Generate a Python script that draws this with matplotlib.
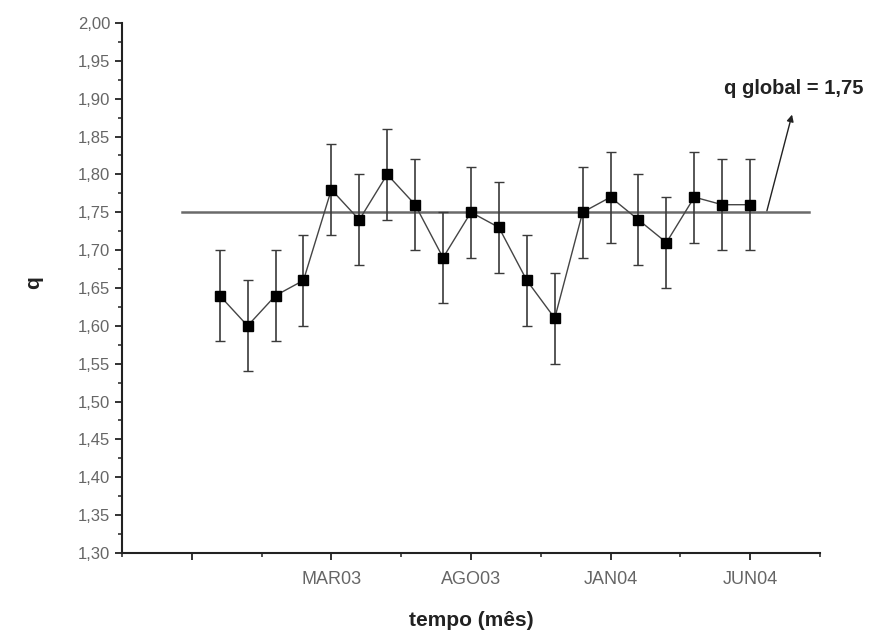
import matplotlib
matplotlib.use("Agg")
import matplotlib.pyplot as plt
from matplotlib.ticker import MultipleLocator, FixedLocator, FuncFormatter

plt.rcParams['font.family'] = ['Liberation Sans', 'DejaVu Sans']

# data
month_idx = list(range(1, 21))
q_values = [1.64, 1.60, 1.64, 1.66, 1.78, 1.74, 1.80, 1.76, 1.69, 1.75,
            1.73, 1.66, 1.61, 1.75, 1.77, 1.74, 1.71, 1.77, 1.76, 1.76]
q_err = [0.06] * 20
q_global = 1.75
xtick_pos = [0, 5, 10, 15, 20]
xtick_labels = ['', 'MAR03', 'AGO03', 'JAN04', 'JUN04']

fig = plt.figure(figsize=(8.75, 6.37), dpi=100)
ax = fig.add_axes([0.1394, 0.1319, 0.7977, 0.8320])

# global q line
ax.plot([-0.35, 22.1], [q_global, q_global], color='#6a6a6a', lw=1.8, zorder=1)

ax.errorbar(month_idx, q_values, yerr=q_err, fmt='s-', color='#444444',
            ecolor='#3a3a3a', elinewidth=1.2, capsize=3.5, capthick=1.0,
            lw=1.0, markersize=6.5, markerfacecolor='black',
            markeredgecolor='black', zorder=3)

ax.annotate('', xy=(21.5, 1.879), xytext=(20.6, 1.752),
            arrowprops=dict(arrowstyle='-|>', color='#222222', lw=1.0,
                            mutation_scale=10, shrinkA=0, shrinkB=0),
            annotation_clip=False)
ax.text(21.55, 1.914, 'q global = 1,75', ha='center', va='center',
        fontsize=14.5, fontweight='bold', color='#222222', clip_on=False)

ax.set_xlim(-2.5, 22.5)
ax.set_ylim(1.30, 2.00)
ax.xaxis.set_major_locator(FixedLocator(xtick_pos))
ax.set_xticklabels(xtick_labels)
ax.xaxis.set_minor_locator(FixedLocator([-2.5, 2.5, 7.5, 12.5, 17.5, 22.5]))
ax.yaxis.set_major_locator(MultipleLocator(0.05))
ax.yaxis.set_minor_locator(MultipleLocator(0.025))
ax.yaxis.set_major_formatter(FuncFormatter(lambda v, p: f'{v:.2f}'.replace('.', ',')))

for s in ['top', 'right']:
    ax.spines[s].set_visible(False)
for s in ['left', 'bottom']:
    ax.spines[s].set_linewidth(1.5)
    ax.spines[s].set_color('#222222')

ax.tick_params(axis='both', which='major', direction='out', length=5, width=1.3,
               colors='#222222', labelcolor='#666666', labelsize=12)
ax.tick_params(axis='x', which='major', labelsize=13, pad=8)
ax.tick_params(axis='both', which='minor', direction='out', length=3, width=1.1,
               colors='#222222')

ax.set_xlabel('tempo (mês)', fontsize=15, fontweight='bold', color='#222222')
ax.set_ylabel('q', fontsize=15, fontweight='bold', color='#222222')
ax.xaxis.set_label_coords(0.5, -0.11)
ax.yaxis.set_label_coords(-0.113, 0.51)

fig.savefig('out.png', dpi=100)
